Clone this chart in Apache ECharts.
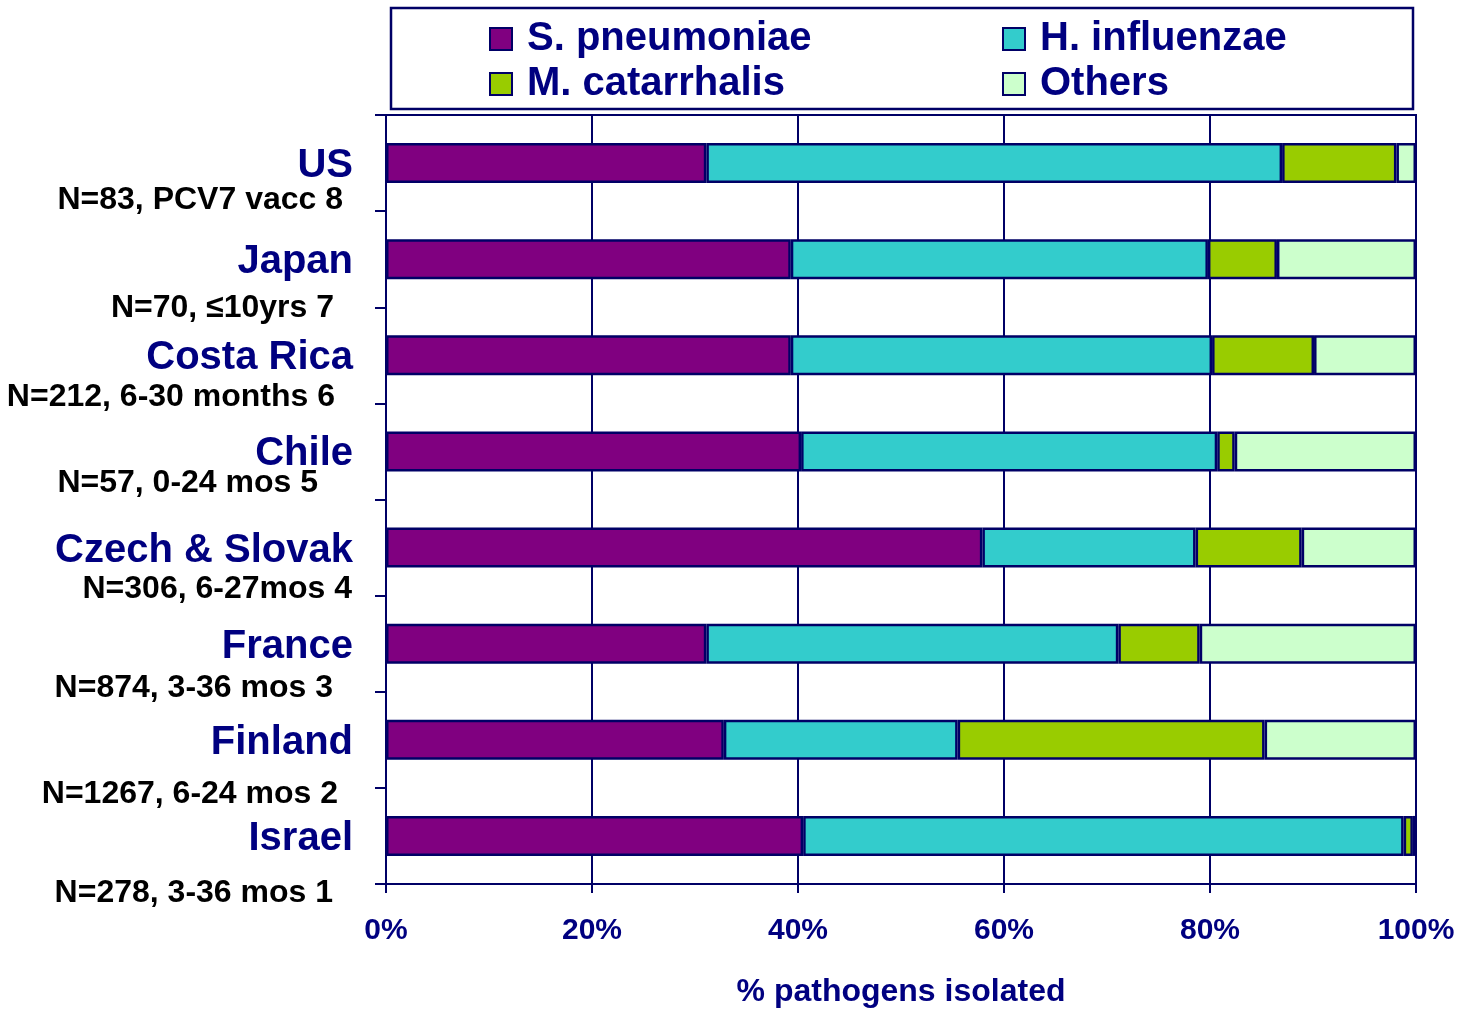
<!DOCTYPE html>
<html>
<head>
<meta charset="utf-8">
<script src="https://cdn.jsdelivr.net/npm/echarts@6/dist/echarts.min.js"></script>
<style>
  html, body { margin: 0; padding: 0; background: #fff; }
  #chart { width: 1458px; height: 1009px; }
</style>
</head>
<body>
<div id="chart"></div>
<script>
// data, % of pathogens isolated
var countries = ['US', 'Japan', 'Costa Rica', 'Chile', 'Czech & Slovak', 'France', 'Finland', 'Israel'];
var subtitles = ['N=83, PCV7 vacc 8', 'N=70, \u226410yrs 7', 'N=212, 6-30 months 6', 'N=57, 0-24 mos 5',
                 'N=306, 6-27mos 4', 'N=874, 3-36 mos 3', 'N=1267, 6-24 mos 2', 'N=278, 3-36 mos 1'];
var sPneumoniae = [31.1, 39.3, 39.3, 40.3, 57.9, 31.1, 32.8, 40.5];
var hInfluenzae = [55.9, 40.5, 40.9, 40.4, 20.7, 40.0, 22.7, 58.3];
var mCatarrhalis = [11.1, 6.7, 9.9, 1.7, 10.3, 7.9, 29.8, 0.9];
var others = [1.9, 13.5, 9.9, 17.6, 11.1, 21.0, 14.7, 0.3];
var xTicks = [0, 20, 40, 60, 80, 100];

// layout of the sub lines (how far below the country, right inset)
var subDrop = [37, 49, 42, 32, 42, 44, 54, 57];
var subInset = [10, 19, 18, 35, 1, 20, 15, 20];

var navy = '#000080';
var edge = '#000066';
var font = '"Liberation Sans", Arial, sans-serif';

var subRich = {};
for (var i = 0; i < subtitles.length; i++) {
    subRich['s' + i] = {
        fontSize: 32,
        fontWeight: 'bold',
        fontFamily: font,
        color: '#000',
        padding: [subDrop[i] * 2, subInset[i], 0, 0]
    };
}

function barSeries(name, color, values) {
    return {
        name: name,
        type: 'bar',
        stack: 'total',
        barWidth: 40,
        yAxisIndex: 0,
        itemStyle: { color: color, borderColor: edge, borderWidth: 2.5 },
        data: values
    };
}

var legendText = { fontSize: 40, fontWeight: 'bold', fontFamily: font, color: navy, lineHeight: 42, padding: [0, 0, 0, 10] };

var option = {
    animation: false,
    backgroundColor: '#fff',
    textStyle: { fontFamily: font },
    graphic: [{
        type: 'rect',
        shape: { x: 391, y: 8, width: 1022, height: 101 },
        style: { fill: 'none', stroke: edge, lineWidth: 2.5 }
    }],
    legend: [{
        orient: 'vertical',
        left: 489, top: 18, padding: 0,
        itemWidth: 22, itemHeight: 22, itemGap: 3,
        icon: 'rect',
        textStyle: legendText,
        data: ['S. pneumoniae', 'M. catarrhalis']
    }, {
        orient: 'vertical',
        left: 1002, top: 18, padding: 0,
        itemWidth: 22, itemHeight: 22, itemGap: 3,
        icon: 'rect',
        textStyle: legendText,
        data: ['H. influenzae', 'Others']
    }],
    grid: {
        left: 386, right: 42, top: 115, bottom: 125,
        show: true, borderColor: edge, borderWidth: 2,
        outerBoundsMode: 'none'
    },
    xAxis: {
        type: 'value',
        min: xTicks[0], max: xTicks[xTicks.length - 1], interval: 20,
        name: '% pathogens isolated',
        nameLocation: 'middle',
        nameGap: 92,
        nameTextStyle: { fontSize: 32, fontWeight: 'bold', color: navy, fontFamily: font },
        axisLine: { lineStyle: { color: edge, width: 2 } },
        axisTick: { show: true, length: 9, lineStyle: { color: edge, width: 2 } },
        splitLine: { show: true, lineStyle: { color: edge, width: 2 } },
        axisLabel: {
            formatter: '{value}%', margin: 32,
            fontSize: 30, lineHeight: 30, fontWeight: 'bold', color: navy, fontFamily: font
        }
    },
    yAxis: [{
        type: 'category',
        inverse: true,
        data: countries,
        axisLine: { lineStyle: { color: edge, width: 2 } },
        axisTick: { show: true, length: 11, lineStyle: { color: edge, width: 2 } },
        splitLine: { show: false },
        axisLabel: {
            interval: 0, margin: 33,
            formatter: '{c|{value}}',
            rich: {
                c: { fontSize: 40, fontWeight: 'bold', color: navy, fontFamily: font, padding: [6, 0, 0, 0] }
            }
        }
    }, {
        type: 'category',
        inverse: true,
        position: 'left',
        data: countries,
        axisLine: { show: false },
        axisTick: { show: false },
        splitLine: { show: false },
        axisLabel: {
            interval: 0, margin: 33,
            formatter: function (value, index) {
                return '{s' + index + '|' + subtitles[index] + '}';
            },
            rich: subRich
        }
    }],
    series: [
        barSeries('S. pneumoniae', '#800080', sPneumoniae),
        barSeries('H. influenzae', '#33CCCC', hInfluenzae),
        barSeries('M. catarrhalis', '#99CC00', mCatarrhalis),
        barSeries('Others', '#CCFFCC', others)
    ]
};

var myChart = echarts.init(document.getElementById('chart'));
myChart.setOption(option);
</script>
</body>
</html>
